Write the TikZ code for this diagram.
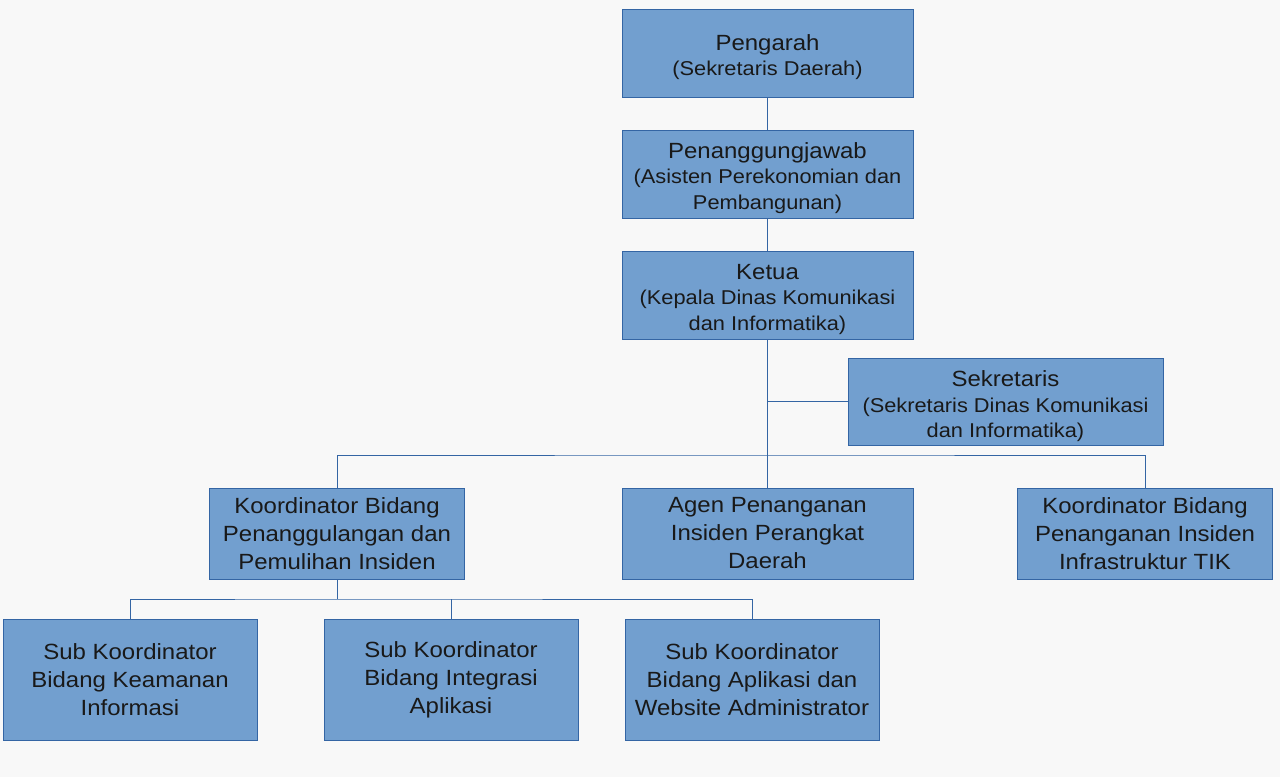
\documentclass[tikz,border=0pt]{standalone}
\usepackage{fontspec}
\setmainfont[FakeStretch=1.09]{Liberation Sans}
\usepackage{xcolor}
\usepackage{tikz}
\usetikzlibrary{positioning}

\definecolor{boxfill}{HTML}{729FCF}
\definecolor{boxline}{HTML}{3465A4}
\definecolor{bgcolor}{HTML}{F8F8F8}

\newcommand{\parenfont}{\fontsize{20}{25}\selectfont}
\newcommand{\topgap}[1]{\rule{0pt}{#1}}

\begin{document}
\begin{tikzpicture}[
    x=1pt, y=-1pt,
    box/.style={rectangle, draw=boxline, fill=boxfill, line width=1pt, inner sep=0pt,
        align=center, text=black!90, minimum width=291pt},
    block/.style={box, font=\fontsize{22}{25.5}\selectfont, minimum height=88pt},
    wideblock/.style={block, minimum width=315pt, minimum height=87pt},
    lowblock/.style={box, font=\fontsize{22}{28}\selectfont, minimum height=91pt},
    midblock/.style={lowblock, minimum width=255pt},
    subblock/.style={lowblock, minimum width=254pt, minimum height=121pt},
    line/.style={draw=boxline, line width=1pt}
]

% Background and margins
\useasboundingbox[fill=bgcolor] (0,0) rectangle (1280,777);

% Top column
\node [block] (pengarah) at (767.5,53) {\topgap{24pt}Pengarah\\\parenfont(Sekretaris Daerah)};
\node [block] (pj) at (767.5,174) {\topgap{24pt}Penanggungjawab\\\parenfont(Asisten Perekonomian dan\\\parenfont Pembangunan)};
\node [block] (ketua) at (767.5,295) {\topgap{24pt}Ketua\\\parenfont(Kepala Dinas Komunikasi\\\parenfont dan Informatika)};
\node [wideblock] (sekretaris) at (1005.5,401.5) {\topgap{26pt}Sekretaris\\\parenfont(Sekretaris Dinas Komunikasi\\\parenfont dan Informatika)};

% Koordinator layer
\node [midblock] (kpp) at (337,533.5) {Koordinator Bidang\\Penanggulangan dan\\Pemulihan Insiden};
\node [lowblock] (agen) at (767.5,533.5) {Agen Penanganan\\Insiden Perangkat\\Daerah};
\node [midblock] (kpi) at (1145,533.5) {Koordinator Bidang\\Penanganan Insiden\\Infrastruktur TIK};

% Sub koordinator layer
\node [subblock] (subki) at (130,679.5) {Sub Koordinator\\Bidang Keamanan\\Informasi};
\node [subblock] (subia) at (451,679.5) {Sub Koordinator\\Bidang Integrasi\\Aplikasi};
\node [subblock] (subawa) at (752,679.5) {Sub Koordinator\\Bidang Aplikasi dan\\Website Administrator};

% Bus points
\coordinate (bus1) at (767.5,455);
\coordinate (bus2) at (337,599);

% Connectors
\draw [line] (pengarah) -- (pj);
\draw [line] (pj) -- (ketua);
\draw [line] (ketua) -- (agen);
\draw [line] (sekretaris.west) -- (sekretaris.west -| ketua.south);
\draw [line] (kpp.north) |- (bus1) -| (kpi.north);
\draw [line] (kpp.south) -- (bus2);
\draw [line] (subki.north) |- (bus2) -| (subawa.north);
\draw [line] (subia.north) -- (subia.north |- bus2);

\end{tikzpicture}
\end{document}
